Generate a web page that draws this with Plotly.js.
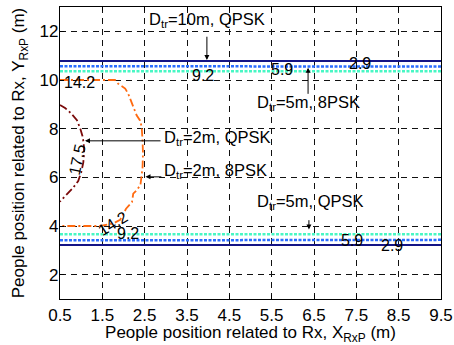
<!DOCTYPE html>
<html>
<head>
<meta charset="utf-8">
<script src="https://cdn.plot.ly/plotly-3.0.1.min.js"></script>
<style>html,body{margin:0;padding:0;background:#fff;}#chart{width:454px;height:345px;}</style>
</head>
<body>
<div id="chart"></div>
<script>
// ---- Data ----
// D_tr = 10m, QPSK (solid navy): upper and lower boundaries
const d10QpskX = [0.5, 9.5, null, 0.5, 9.5];
const d10QpskY = [10.78, 10.78, null, 3.22, 3.22];
// D_tr = 5m, 8PSK (blue dotted)
const d5PskX = [0.5, 9.5, null, 0.5, 9.5];
const d5PskY = [10.57, 10.55, null, 3.41, 3.43];
// D_tr = 5m, QPSK (cyan dotted)
const d5QpskX = [0.5, 9.5, null, 0.5, 9.5];
const d5QpskY = [10.36, 10.36, null, 3.66, 3.66];
// D_tr = 2m, 8PSK (orange dash-dot)
const d2PskX = [0.5, 1.0, 1.5, 1.8, 1.87, 2.04, 2.11, 2.23, 2.31, 2.39, 2.43, 2.45, 2.46, 2.45, 2.43, 2.40, 2.30, 2.23, 2.20, 2.06, 1.92, 1.75, 1.45, 1.0, 0.5];
const d2PskY = [10.0, 10.0, 10.0, 10.0, 9.85, 9.65, 9.44, 8.89, 8.55, 8.34, 8.07, 7.5, 7.0, 6.4, 6.0, 5.68, 5.45, 5.33, 4.98, 4.71, 4.25, 4.1, 4.0, 4.0, 4.0];
// D_tr = 2m, QPSK (maroon dash-dot)
const d2QpskX = [0.5, 0.62, 0.75, 0.9, 0.98, 1.03, 1.06, 1.07, 1.05, 1.0, 0.93, 0.8, 0.66, 0.5];
const d2QpskY = [8.97, 8.85, 8.65, 8.35, 8.0, 7.7, 7.4, 7.0, 6.6, 6.2, 5.85, 5.55, 5.3, 5.0];

// Contour level labels
const levelText = ['14.2', '9.2', '5.9', '2.9', '17.5', '14.2', '9.2', '5.9', '2.9'];
const levelX = [0.97, 3.88, 5.75, 7.59, 0.9, 1.75, 2.11, 7.4, 8.35];
const levelY = [9.9, 10.2, 10.44, 10.69, 6.75, 4.12, 3.7, 3.42, 3.2];
const levelAngle = [0, 0, 0, 0, -78, -32, 0, 0, 0];

// Callouts: text, text anchor, arrow tail, arrow head
const calloutText = ['D<sub>tr</sub>=10m, QPSK', 'D<sub>tr</sub>=5m, 8PSK', 'D<sub>tr</sub>=2m, QPSK', 'D<sub>tr</sub>=2m, 8PSK', 'D<sub>tr</sub>=5m, QPSK'];
const calloutX = [2.56, 5.1, 2.91, 2.91, 5.1];
const calloutY = [12.45, 9.04, 7.62, 6.28, 4.99];
const arrowTailX = [3.97, 6.36, 2.91, 2.93, 6.38];
const arrowTailY = [11.84, 9.37, 7.5, 6.02, 4.3];
const arrowHeadX = [3.97, 6.36, 1.09, 2.52, 6.38];
const arrowHeadY = [10.82, 10.5, 7.5, 6.02, 3.86];

const xTicks = [0.5, 1.5, 2.5, 3.5, 4.5, 5.5, 6.5, 7.5, 8.5, 9.5];
const yTicks = [2, 4, 6, 8, 10, 12];

const FONT = 'Liberation Sans, Arial, sans-serif';

const traces = [
  {x: d10QpskX, y: d10QpskY, mode: 'lines', line: {color: '#141486', width: 2}},
  {x: d5PskX, y: d5PskY, mode: 'lines', line: {color: '#2a6cff', width: 2.5, dash: '3px,1.5px'}},
  {x: d5QpskX, y: d5QpskY, mode: 'lines', line: {color: '#48f7c4', width: 2.5, dash: '3px,1.5px'}},
  {x: d2PskX, y: d2PskY, mode: 'lines', line: {color: '#ff6a10', width: 1.8, dash: '8px,3px,2px,3px'}},
  {x: d2QpskX, y: d2QpskY, mode: 'lines', line: {color: '#7a0a0a', width: 1.8, dash: '8px,3px,2px,3px'}}
];

const annotations = [];
levelText.forEach((t, i) => {
  annotations.push({x: levelX[i], y: levelY[i], xref: 'x', yref: 'y', text: t, showarrow: false,
    textangle: levelAngle[i], font: {family: FONT, size: 16, color: '#000'}});
});
calloutText.forEach((t, i) => {
  annotations.push({x: arrowHeadX[i], y: arrowHeadY[i], ax: arrowTailX[i], ay: arrowTailY[i],
    xref: 'x', yref: 'y', axref: 'x', ayref: 'y', text: '', showarrow: true,
    arrowhead: 2, arrowsize: 1, arrowwidth: 1, arrowcolor: '#000'});
  annotations.push({x: calloutX[i], y: calloutY[i], xref: 'x', yref: 'y', text: t, showarrow: false,
    xanchor: 'left', yanchor: 'middle', font: {family: FONT, size: 16.5, color: '#000'}});
});

const axisCommon = {
  showline: true, linecolor: '#000', linewidth: 1.2, mirror: 'ticks',
  ticks: 'inside', ticklen: 4, tickcolor: '#000',
  showgrid: true, gridcolor: '#111', gridwidth: 1, griddash: '6px,5px',
  zeroline: false, tickfont: {family: FONT, size: 17, color: '#000'}
};

const layout = {
  width: 454, height: 345,
  margin: {l: 60, r: 13, t: 7, b: 46},
  paper_bgcolor: '#fff', plot_bgcolor: '#fff',
  showlegend: false,
  font: {family: FONT, color: '#000'},
  xaxis: Object.assign({}, axisCommon, {
    range: [0.5, 9.5], tickvals: xTicks, ticktext: xTicks.map(v => v.toFixed(1)),
    title: {text: 'People position related to Rx, X<sub>RxP</sub> (m)', font: {family: FONT, size: 17, color: '#000'}, standoff: 0}
  }),
  yaxis: Object.assign({}, axisCommon, {
    range: [1, 13], tickvals: yTicks, ticktext: yTicks.map(String), ticklabelstandoff: -3,
    title: {text: 'People position related to Rx, Y<sub>RxP</sub> (m)', font: {family: FONT, size: 17, color: '#000'}, standoff: 10}
  }),
  annotations: annotations
};

Plotly.newPlot('chart', traces, layout, {staticPlot: true, displayModeBar: false});
</script>
</body>
</html>
